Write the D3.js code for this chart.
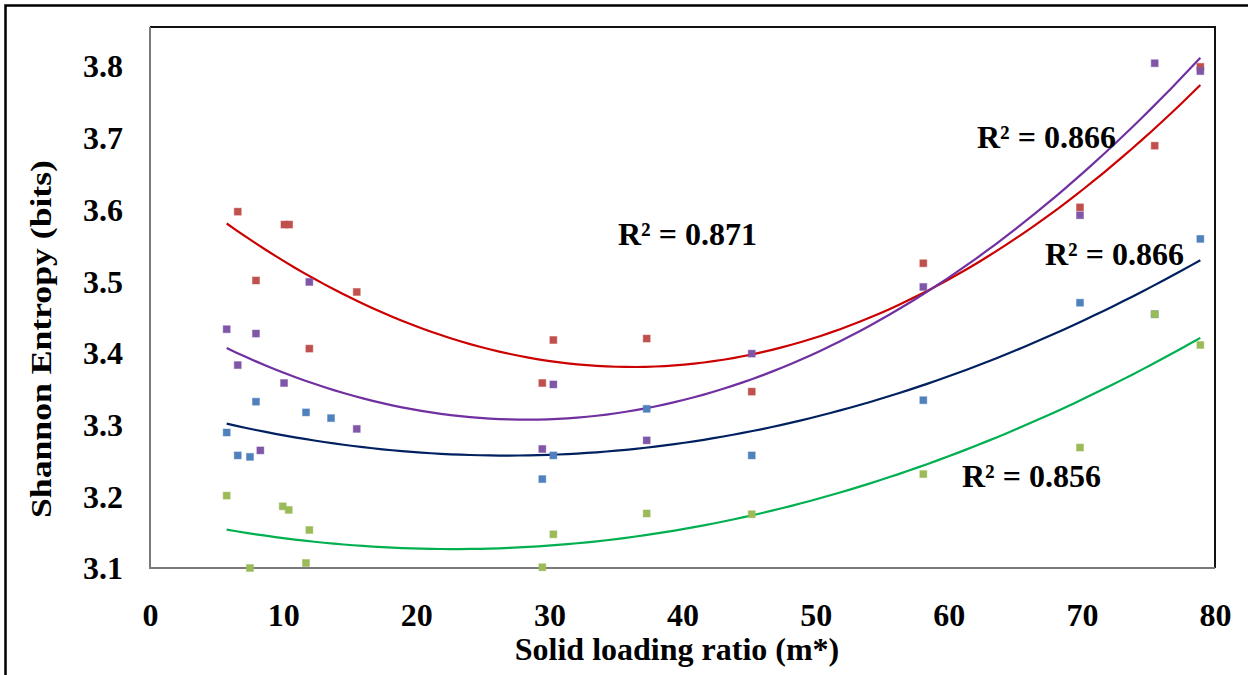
<!DOCTYPE html>
<html>
<head>
<meta charset="utf-8">
<script src="https://cdn.jsdelivr.net/npm/d3@7"></script>
<style>
  body { margin: 0; background: #fff; }
  text { font-family: "Liberation Serif", "Times New Roman", serif; font-weight: bold; fill: #000; }
</style>
</head>
<body>
<div id="chart"></div>
<script>
// data
// (blue 75.47 sits under the green marker, green 6.59 is below the axis minimum)
var blueX = [5.76, 6.59, 7.51, 7.96, 11.72, 13.6, 29.47, 30.3, 37.31, 45.2, 58.09, 69.86, 75.47, 78.9];
var blueY = [3.289, 3.257, 3.255, 3.332, 3.317, 3.309, 3.224, 3.257, 3.322, 3.257, 3.334, 3.470, 3.454, 3.559];

var redX = [6.59, 7.96, 10.1, 10.45, 11.97, 15.53, 29.47, 30.3, 37.31, 45.2, 58.09, 69.86, 75.47, 78.9];
var redY = [3.597, 3.501, 3.579, 3.579, 3.406, 3.485, 3.358, 3.418, 3.420, 3.346, 3.525, 3.603, 3.689, 3.799];

var greenX = [5.76, 6.59, 7.51, 9.97, 10.42, 11.72, 11.97, 29.47, 30.3, 37.31, 45.2, 58.09, 69.86, 75.47, 78.9];
var greenY = [3.201, 3.085, 3.100, 3.186, 3.181, 3.107, 3.153, 3.101, 3.147, 3.176, 3.175, 3.231, 3.268, 3.454, 3.411];

var purpleX = [5.76, 6.59, 7.96, 8.29, 10.07, 11.97, 15.53, 29.47, 30.3, 37.31, 45.2, 58.09, 69.86, 75.47, 78.9];
var purpleY = [3.433, 3.383, 3.427, 3.264, 3.358, 3.499, 3.294, 3.266, 3.356, 3.278, 3.399, 3.492, 3.592, 3.804, 3.793];

var r2Labels = ["R\u00B2 = 0.866", "R\u00B2 = 0.871", "R\u00B2 = 0.856", "R\u00B2 = 0.866"];

var xTicks = [0, 10, 20, 30, 40, 50, 60, 70, 80];
var yTicks = [3.1, 3.2, 3.3, 3.4, 3.5, 3.6, 3.7, 3.8];

// trendlines all span the shared x range of the measurements
var trendRange = [5.76, 78.9];

var series = [
  {xs: blueX, ys: blueY, marker: "#4F81BD", line: "#002060", label: r2Labels[0], lx: 1045, ly: 265},
  {xs: redX, ys: redY, marker: "#C0504D", line: "#CC0000", label: r2Labels[1], lx: 618, ly: 245},
  {xs: greenX, ys: greenY, marker: "#9BBB59", line: "#00B050", label: r2Labels[2], lx: 962, ly: 487},
  {xs: purpleX, ys: purpleY, marker: "#7F56A8", line: "#7030A0", label: r2Labels[3], lx: 977, ly: 148}
];

var svgWidth = 1248;
var svgHeight = 675;

var plot = {left: 150, right: 1215, top: 27, bottom: 568};

var svg = d3.select("#chart")
  .append("svg")
  .attr("width", svgWidth)
  .attr("height", svgHeight);

svg.append("rect")
  .attr("width", svgWidth)
  .attr("height", svgHeight)
  .attr("fill", "#fff");

// outer frame (left and top only, cut at the right)
svg.append("path")
  .attr("d", "M5.5,675 L5.5,5.5 L1248,5.5")
  .attr("fill", "none")
  .attr("stroke", "#000")
  .attr("stroke-width", 2.5);

var x = d3.scaleLinear().domain([0, 80]).range([plot.left, plot.right]);
var y = d3.scaleLinear().domain([3.1, 3.1 + (plot.bottom - plot.top) / 717]).range([plot.bottom, plot.top]);

// plot frame
svg.append("path")
  .attr("d", `M${plot.left},${plot.top} L${plot.right},${plot.top} L${plot.right},${plot.bottom}`)
  .attr("fill", "none")
  .attr("stroke", "#111")
  .attr("stroke-width", 2);
svg.append("path")
  .attr("d", `M${plot.left},${plot.top} L${plot.left},${plot.bottom} L${plot.right},${plot.bottom}`)
  .attr("fill", "none")
  .attr("stroke", "#7a7a7a")
  .attr("stroke-width", 2);

// tick labels
var xAxis = d3.axisBottom(x).tickValues(xTicks).tickSize(0).tickPadding(0).tickFormat(d3.format("d"));
var gx = svg.append("g")
  .attr("transform", `translate(0, ${plot.bottom})`)
  .call(xAxis);
gx.select(".domain").remove();
gx.selectAll("text")
  .attr("y", 58)
  .attr("dy", null)
  .style("font-size", "32px")
  .style("font-family", "Liberation Serif")
  .style("font-weight", "bold");

var yAxis = d3.axisLeft(y).tickValues(yTicks).tickSize(0).tickPadding(0).tickFormat(d3.format(".1f"));
var gy = svg.append("g")
  .attr("transform", `translate(${plot.left}, 0)`)
  .call(yAxis);
gy.select(".domain").remove();
gy.selectAll("text")
  .attr("x", -27)
  .attr("dy", "0.34em")
  .style("font-size", "32px")
  .style("font-family", "Liberation Serif")
  .style("font-weight", "bold");

// axis titles
svg.append("text")
  .attr("transform", "translate(51, 339) rotate(-90)")
  .attr("text-anchor", "middle")
  .attr("textLength", 358)
  .attr("lengthAdjust", "spacingAndGlyphs")
  .style("font-size", "29px")
  .text("Shannon Entropy (bits)");

svg.append("text")
  .attr("x", 677)
  .attr("y", 660)
  .attr("text-anchor", "middle")
  .style("font-size", "32px")
  .text("Solid loading ratio (m*)");

// quadratic least squares, like an Excel polynomial trendline
function polyFit(xs, ys) {
  var s = [0, 0, 0, 0, 0], t = [0, 0, 0];
  xs.forEach(function(xv, i) {
    for (var k = 0; k < 5; k++) s[k] += Math.pow(xv, k);
    for (var k = 0; k < 3; k++) t[k] += Math.pow(xv, k) * ys[i];
  });
  var m = [[s[0], s[1], s[2], t[0]], [s[1], s[2], s[3], t[1]], [s[2], s[3], s[4], t[2]]];
  for (var c = 0; c < 3; c++) {
    for (var r = c + 1; r < 3; r++) {
      var f = m[r][c] / m[c][c];
      for (var k = c; k < 4; k++) m[r][k] -= f * m[c][k];
    }
  }
  var b = [0, 0, 0];
  for (var r = 2; r >= 0; r--) {
    var v = m[r][3];
    for (var k = r + 1; k < 3; k++) v -= m[r][k] * b[k];
    b[r] = v / m[r][r];
  }
  return b;
}

var line = d3.line()
  .x(d => x(d[0]))
  .y(d => y(d[1]));

series.forEach(function(s) {
  var b = polyFit(s.xs, s.ys);
  var x0 = trendRange[0], x1 = trendRange[1];
  var pts = d3.range(0, 101).map(function(i) {
    var xv = x0 + (x1 - x0) * i / 100;
    return [xv, b[0] + b[1] * xv + b[2] * xv * xv];
  });
  svg.append("path")
    .datum(pts)
    .attr("d", line)
    .attr("fill", "none")
    .attr("stroke", s.line)
    .attr("stroke-width", 2.2);
});

// markers (points under the axis minimum are not drawn)
series.forEach(function(s) {
  svg.append("g")
    .selectAll("rect")
    .data(s.xs.map((xv, i) => [xv, s.ys[i]]).filter(d => d[1] >= 3.095))
    .enter()
    .append("rect")
    .attr("x", d => x(d[0]) - 3.5)
    .attr("y", d => y(d[1]) - 3.5)
    .attr("width", 7)
    .attr("height", 7)
    .attr("fill", s.marker)
    .attr("stroke", s.marker)
    .attr("stroke-opacity", 0.45)
    .attr("stroke-width", 1);
});

// R² labels
series.forEach(function(s) {
  svg.append("text")
    .attr("x", s.lx)
    .attr("y", s.ly)
    .style("font-size", "32px")
    .text(s.label);
});
</script>
</body>
</html>
